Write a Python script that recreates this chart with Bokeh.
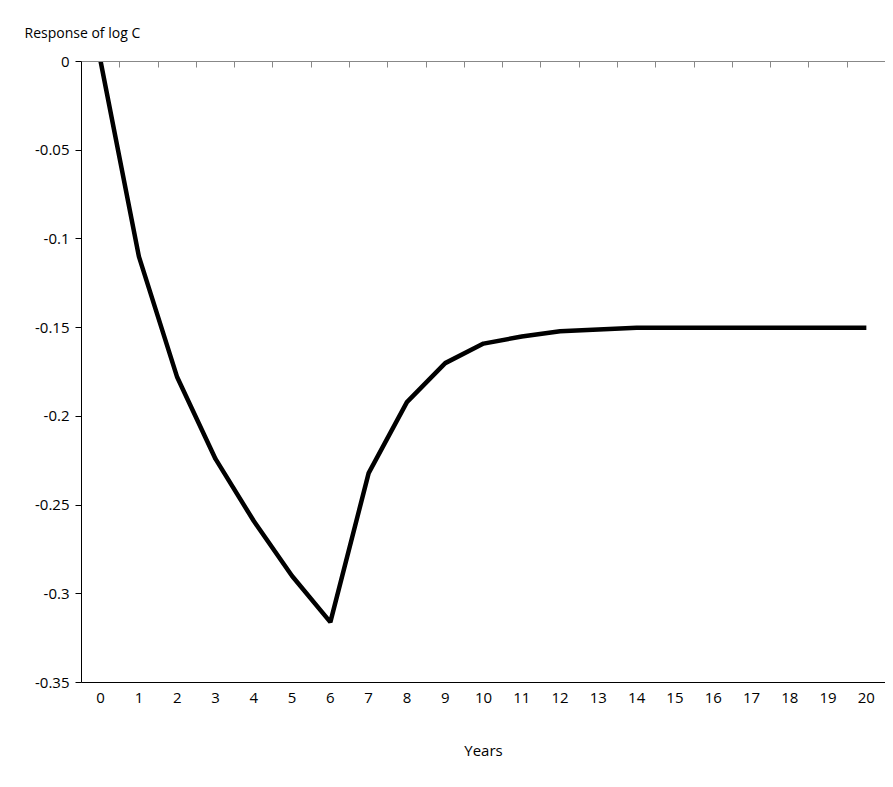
from bokeh.plotting import figure
from bokeh.models import LinearAxis, FixedTicker, Range1d
from bokeh.embed import file_html
from bokeh.resources import INLINE

# Years after the shock and response of log consumption
years = list(range(21))
response = [0.0, -0.110, -0.178, -0.224, -0.259, -0.290, -0.316, -0.232, -0.192,
            -0.170, -0.159, -0.155, -0.152, -0.151, -0.150, -0.150, -0.150,
            -0.150, -0.150, -0.150, -0.150]
y_ticks = [0, -0.05, -0.1, -0.15, -0.2, -0.25, -0.3, -0.35]
FONT = "Open Sans"

p = figure(width=885, height=770, output_backend="svg", toolbar_location=None,
           x_range=Range1d(-0.5, 20.5), y_range=Range1d(-0.35, 0),
           x_axis_location=None, y_axis_location=None,
           min_border_left=81, min_border_top=57, min_border_bottom=88,
           min_border_right=0, title="Response of log C")
p.outline_line_color = None
p.grid.visible = False
p.title.text_font = FONT
p.title.text_font_size = "14px"
p.title.text_font_style = "normal"
p.title.text_color = "black"
p.title.align = "left"
p.title.offset = -57
p.title.standoff = 40

p.line(years, response, line_color="black", line_width=4.5)

left = LinearAxis(ticker=FixedTicker(ticks=y_ticks))
left.major_label_overrides = {0: "0", -0.05: "-0.05", -0.1: "-0.1", -0.15: "-0.15",
                              -0.2: "-0.2", -0.25: "-0.25", -0.3: "-0.3", -0.35: "-0.35"}
left.major_tick_out = 6
left.major_tick_in = 0
left.minor_tick_out = 0
left.major_label_text_font = FONT
left.major_label_text_font_size = "15px"
left.major_label_text_color = "black"
left.major_label_standoff = 6
p.add_layout(left, "left")

bottom = LinearAxis(ticker=FixedTicker(ticks=years), axis_label="Years")
bottom.major_tick_out = 0
bottom.major_tick_in = 0
bottom.minor_tick_out = 0
bottom.major_label_standoff = 10
bottom.major_label_text_font = FONT
bottom.major_label_text_font_size = "15px"
bottom.major_label_text_color = "black"
bottom.axis_label_text_font = FONT
bottom.axis_label_text_font_size = "15px"
bottom.axis_label_text_font_style = "normal"
bottom.axis_label_text_color = "black"
bottom.axis_label_standoff = 34
p.add_layout(bottom, "below")

top = LinearAxis(ticker=FixedTicker(ticks=[y + 0.5 for y in years]))
top.major_tick_in = 6
top.major_tick_out = 0
top.minor_tick_out = 0
top.major_label_text_font_size = "0px"
top.axis_line_color = "#888888"
top.major_tick_line_color = "#888888"
p.add_layout(top, "above")

open("out.html", "w").write(file_html(p, INLINE))
